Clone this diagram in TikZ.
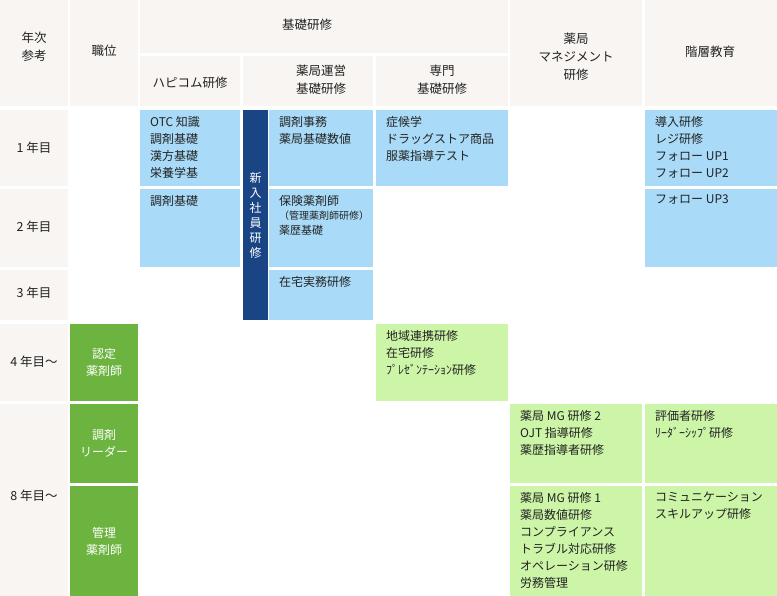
\documentclass[tikz,border=0pt]{standalone}
\usepackage{fontspec}
\setmainfont{Noto Sans CJK JP}
\definecolor{beige}{HTML}{F8F5F2}
\definecolor{blue}{HTML}{A9DBF8}
\definecolor{lgreen}{HTML}{CCF5A8}
\definecolor{dgreen}{HTML}{6CB33F}
\definecolor{navy}{HTML}{1A4585}
\definecolor{ink}{HTML}{222222}
\begin{document}
\begin{tikzpicture}[x=1pt,y=-1pt,
 cell/.style={draw=none,inner sep=0,outer sep=0,anchor=north west},
 txt/.style={inner sep=0,anchor=north west,align=left,text=ink,font=\fontsize{12}{17}\selectfont},
 hd/.style={inner sep=0,align=center,text=ink,font=\fontsize{12.5}{18}\selectfont},
 wt/.style={inner sep=0,align=center,text=white,font=\fontsize{12}{17}\selectfont}]
\useasboundingbox (0,0) rectangle (777,596);
\newcommand{\cellbox}[6]{\node[cell,fill=#6,minimum width=#4-#2,minimum height=#5-#3] (#1) at (#2,#3) {};}
% header
\cellbox{hA}{0}{0}{68}{106}{beige}
\cellbox{hB}{70}{0}{138}{106}{beige}
\cellbox{hC}{140}{0}{508}{53}{beige}
\cellbox{hC1}{140}{56}{240}{106}{beige}
\cellbox{hC2}{243}{56}{373}{106}{beige}
\cellbox{hC3}{376}{56}{508}{106}{beige}
\cellbox{hD}{510}{0}{642}{106}{beige}
\cellbox{hE}{645}{0}{777}{106}{beige}
% year column
\cellbox{y1}{0}{110}{68}{186}{beige}
\cellbox{y2}{0}{189}{68}{267}{beige}
\cellbox{y3}{0}{270}{68}{320}{beige}
\cellbox{y4}{0}{324}{68}{401}{beige}
\cellbox{y8}{0}{404}{68}{596}{beige}
% positions
\cellbox{p4}{70}{324}{138}{401}{dgreen}
\cellbox{p8a}{70}{404}{138}{483}{dgreen}
\cellbox{p8b}{70}{486}{138}{596}{dgreen}
% blue
\cellbox{b11}{140}{110}{240}{186}{blue}
\cellbox{b21}{140}{189}{240}{267}{blue}
\cellbox{nv}{243}{110}{268}{320}{navy}
\cellbox{b12}{269}{110}{373}{186}{blue}
\cellbox{b22}{269}{189}{373}{267}{blue}
\cellbox{b32}{269}{270}{373}{320}{blue}
\cellbox{b13}{376}{110}{508}{186}{blue}
\cellbox{b15}{645}{110}{777}{186}{blue}
\cellbox{b25}{645}{189}{777}{267}{blue}
% green
\cellbox{g43}{376}{324}{508}{401}{lgreen}
\cellbox{g84}{510}{404}{642}{483}{lgreen}
\cellbox{g85}{645}{404}{777}{483}{lgreen}
\cellbox{g94}{510}{486}{642}{596}{lgreen}
\cellbox{g95}{645}{486}{777}{596}{lgreen}
% header text
\node[hd] (tA) at (34,47) {年次\\参考};
\node[hd] (tB) at (104,51) {職位};
\node[hd] (tC) at (307,25) {基礎研修};
\node[hd] (tC1) at (190,83) {ハピコム研修};
\node[hd] (tC2) at (321,80) {薬局運営\\基礎研修};
\node[hd] (tC3) at (442,80) {専門\\基礎研修};
\node[hd] (tD) at (576,57) {薬局\\マネジメント\\研修};
\node[hd] (tE) at (710,52) {階層教育};
\node[hd] (t1) at (34,148) {1 年目};
\node[hd] (t2) at (34,227) {2 年目};
\node[hd] (t3) at (34,293) {3 年目};
\node[hd] (t4) at (34,362) {4 年目〜};
\node[hd] (t8) at (34,496) {8 年目〜};
\node[wt] (q4) at (104,362) {認定\\薬剤師};
\node[wt] (q8a) at (104,443) {調剤\\リーダー};
\node[wt] (q8b) at (104,541) {管理\\薬剤師};
\node[wt,font=\fontsize{12}{15}\selectfont] (nvt) at (255.5,215) {新\\入\\社\\員\\研\\修};
% body text
\node[txt] at (150,116) {OTC 知識\\調剤基礎\\漢方基礎\\栄養学基};
\node[txt] at (150,195) {調剤基礎};
\node[txt] at (279,116) {調剤事務\\薬局基礎数値};
\node[txt] at (279,195) {保険薬剤師\\[-3pt]{\fontsize{10}{14}\selectfont （管理薬剤師研修）}\\[-2pt]{\fontsize{11}{17}\selectfont 薬歴基礎}};
\node[txt] at (279,276) {在宅実務研修};
\node[txt] at (386,116) {症候学\\ドラッグストア商品\\服薬指導テスト};
\node[txt] at (655,116) {導入研修\\レジ研修\\フォロー UP1\\フォロー UP2};
\node[txt] at (655,195) {フォロー UP3};
\node[txt] at (386,330) {地域連携研修\\在宅研修\\ﾌﾟﾚｾﾞﾝﾃｰｼｮﾝ研修};
\node[txt] at (520,410) {薬局 MG 研修 2\\OJT 指導研修\\薬歴指導者研修};
\node[txt] at (655,410) {評価者研修\\ﾘｰﾀﾞｰｼｯﾌﾟ研修};
\node[txt] at (520,492) {薬局 MG 研修 1\\薬局数値研修\\コンプライアンス\\トラブル対応研修\\オペレーション研修\\労務管理};
\node[txt] at (655,492) {コミュニケーション\\スキルアップ研修};
\end{tikzpicture}
\end{document}
